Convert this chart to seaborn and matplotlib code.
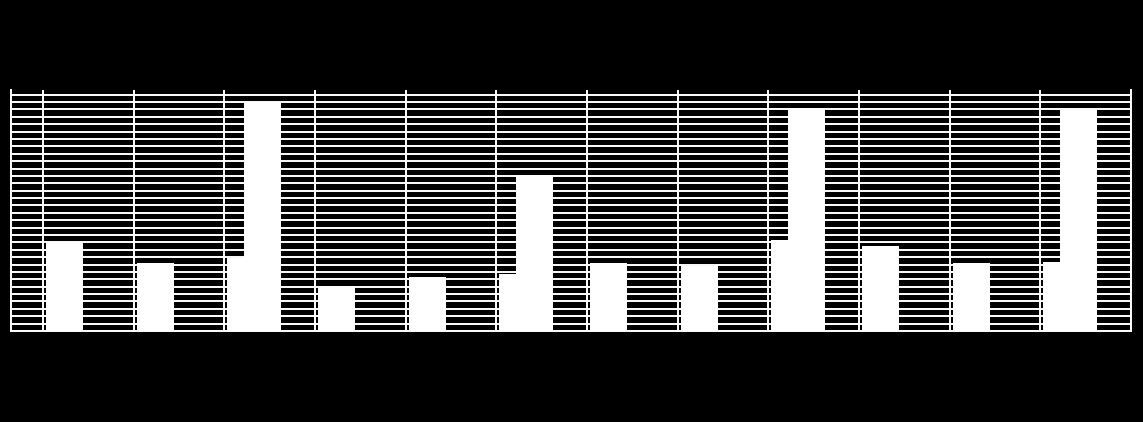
#!/usr/bin/env python3
"""
plot.py - monthly bars with quarterly totals, white on black
"""

import numpy as np
import pandas as pd
import seaborn as sns
import matplotlib
matplotlib.use("Agg")
import matplotlib.pyplot as plt

# ── Data ─────────────────────────────────────────────────────────────
MONTHS = np.arange(12)
MONTHLY = [12.0, 9.15, 9.85, 6.15, 7.25, 7.7, 9.15, 8.75, 12.3, 11.45, 9.15, 9.3]
QUARTER_END = [2, 5, 8, 11]
QUARTERLY = [31.0, 21.1, 30.2, 29.9]

# ── Style ────────────────────────────────────────────────────────────
BG = "black"
FG = "white"
MONTH_OFFSET = 0.237   # gridlines sit at the start of each month slot
QUARTER_SHIFT = 0.182  # quarterly bar sits a bit right of its month bar

sns.set_theme(style="darkgrid")

monthly_df = pd.DataFrame({"pos": MONTHS, "value": MONTHLY})
quarter_df = pd.DataFrame({"pos": np.array(QUARTER_END) + QUARTER_SHIFT,
                           "value": QUARTERLY})

fig = plt.figure(figsize=(11.43, 4.22), dpi=100, facecolor=BG)
ax = fig.add_axes([11 / 1143, 91 / 422, 1120 / 1143, 241 / 422])
ax.set_facecolor(BG)

sns.barplot(data=monthly_df, x="pos", y="value", native_scale=True,
            width=0.408, color=FG, saturation=1, linewidth=0,
            errorbar=None, ax=ax)
# native width for the quarterly series is the 3-month spacing
sns.barplot(data=quarter_df, x="pos", y="value", native_scale=True,
            width=0.402 / 3, color=FG, saturation=1, linewidth=0,
            errorbar=None, ax=ax)

ax.set_xticks(np.arange(13) - MONTH_OFFSET)
ax.set_yticks(np.arange(0, 33, 1))
ax.set_xlim(-0.590, 12 - MONTH_OFFSET)
ax.set_ylim(0, 32.63)

ax.grid(True, color=FG, linewidth=1.4)
ax.set_axisbelow(True)
ax.tick_params(length=0, labelbottom=False, labelleft=False)
ax.set_xlabel("")
ax.set_ylabel("")

for side in ["left", "bottom", "right"]:
    ax.spines[side].set_visible(True)
    ax.spines[side].set_color(FG)
    ax.spines[side].set_linewidth(1.4)
ax.spines["top"].set_visible(False)

fig.savefig("out.png", dpi=100, facecolor=BG)
plt.close(fig)
